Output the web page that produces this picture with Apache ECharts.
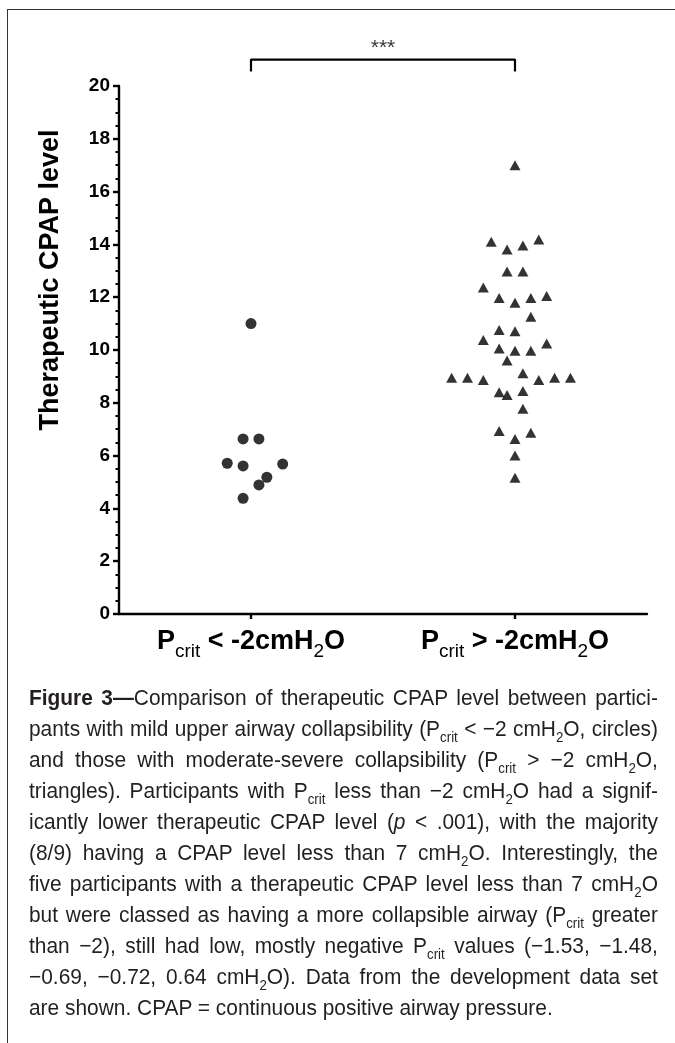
<!DOCTYPE html>
<html>
<head>
<meta charset="utf-8">
<script src="https://cdn.jsdelivr.net/npm/echarts@6/dist/echarts.min.js"></script>
<style>
  body { margin: 0; background: #fff; }
  #frame { position: absolute; left: 7px; top: 9px; width: 700px; height: 1100px;
           border-top: 1.5px solid #333; border-left: 1.5px solid #333; }
  #ch-main { position: absolute; left: 0; top: 0; width: 675px; height: 1043px; }
  #caption { position: absolute; left: 29px; top: 682px; width: 662px;
             transform: scaleX(0.95); transform-origin: left top;
             font-family: "Liberation Sans", Arial, sans-serif; font-size: 22px;
             line-height: 31px; color: #231f20; }
  #caption div { white-space: nowrap; text-align: justify; text-align-last: justify; }
  #caption div.last { text-align-last: left; }
  .sb { font-size: 14px; line-height: 0; position: relative; top: 6px; }
</style>
</head>
<body>
<div id="frame"></div>
<div id="ch-main"></div>
<div id="caption">
  <div><b>Figure 3—</b>Comparison of therapeutic CPAP level between partici-</div>
  <div>pants with mild upper airway collapsibility (P<span class="sb">crit</span> &lt; −2 cmH<span class="sb">2</span>O, circles)</div>
  <div>and those with moderate-severe collapsibility (P<span class="sb">crit</span> &gt; −2 cmH<span class="sb">2</span>O,</div>
  <div>triangles). Participants with P<span class="sb">crit</span> less than −2 cmH<span class="sb">2</span>O had a signif-</div>
  <div>icantly lower therapeutic CPAP level (<i>p</i> &lt; .001), with the majority</div>
  <div>(8/9) having a CPAP level less than 7 cmH<span class="sb">2</span>O. Interestingly, the</div>
  <div>five participants with a therapeutic CPAP level less than 7 cmH<span class="sb">2</span>O</div>
  <div>but were classed as having a more collapsible airway (P<span class="sb">crit</span> greater</div>
  <div>than −2), still had low, mostly negative P<span class="sb">crit</span> values (−1.53, −1.48,</div>
  <div>−0.69, −0.72, 0.64 cmH<span class="sb">2</span>O). Data from the development data set</div>
  <div class="last">are shown. CPAP = continuous positive airway pressure.</div>
</div>
<script>
// groups on the x axis (1 = circles, 2 = triangles)
var groupNames = ['{b|P}{s|crit}{b| < -2cmH}{s|2}{b|O}', '{b|P}{s|crit}{b| > -2cmH}{s|2}{b|O}'];

// Pcrit < -2 : therapeutic CPAP level and horizontal spread of the dots
var lowCpap = [11.0, 6.63, 6.63, 5.71, 5.61, 5.68, 5.18, 4.89, 4.38];
var lowX = [1.0, 0.97, 1.03, 0.91, 0.97, 1.12, 1.06, 1.03, 0.97];

// Pcrit > -2
var highCpap = [17.0, 14.1, 13.81, 13.96, 14.19, 12.97, 12.97, 12.37, 11.97, 11.79,
                11.97, 12.05, 11.26, 10.76, 10.71, 10.38, 10.25, 10.06, 9.97, 9.97,
                9.6, 8.95, 8.95, 8.86, 9.12, 8.86, 8.95, 8.95, 8.4, 8.3,
                8.45, 7.77, 6.93, 6.63, 6.87, 6.0, 5.16];
var highX = [2.0, 1.91, 1.97, 2.03, 2.09, 1.97, 2.03, 1.88, 1.94, 2.0,
             2.06, 2.12, 2.06, 1.94, 2.0, 1.88, 2.12, 1.94, 2.0, 2.06,
             1.97, 1.76, 1.82, 1.88, 2.03, 2.09, 2.15, 2.21, 1.94, 1.97,
             2.03, 2.03, 1.94, 2.0, 2.06, 2.0, 2.0];

// significance bracket between the groups
var bracket = [[1, 20.55], [1, 21], [2, 21], [2, 20.55]];
var sigLabel = '***';

var yTicks = [0, 2, 4, 6, 8, 10, 12, 14, 16, 18, 20];

function pairs(xs, ys) {
    return ys.map(function (v, i) { return [xs[i], v]; });
}

var myChart = echarts.init(document.getElementById('ch-main'));

var fontBold = '"Liberation Sans", Arial, sans-serif';

var option = {
    animation: false,
    grid: {left: 119, right: 28, top: 86, bottom: 429},
    xAxis: {
        type: 'value', min: 0.5, max: 2.5,
        splitLine: {show: false},
        axisLine: {lineStyle: {color: '#000', width: 2.4}},
        axisTick: {show: true, customValues: [1, 2], length: 5, lineStyle: {color: '#000', width: 2.4}},
        axisLabel: {
            customValues: [1, 2],
            margin: 14,
            formatter: function (v) { return groupNames[Math.round(v) - 1]; },
            rich: {
                b: {fontFamily: fontBold, fontWeight: 'bold', fontSize: 27, color: '#000',
                    lineHeight: 30, verticalAlign: 'top'},
                // subscripts pushed down with top padding
                s: {fontFamily: fontBold, fontSize: 19, color: '#000',
                    lineHeight: 20, padding: [14, 0, 0, 0], verticalAlign: 'top'}
            }
        }
    },
    yAxis: {
        type: 'value', min: 0, max: 20, interval: 2,
        splitLine: {show: false},
        axisLine: {show: true, lineStyle: {color: '#000', width: 2.4}},
        axisTick: {show: true, length: 6, lineStyle: {color: '#000', width: 2.4}},
        minorTick: {show: true, splitNumber: 4, length: 3.5, lineStyle: {color: '#000', width: 2}},
        axisLabel: {
            margin: 9, color: '#000', fontSize: 19, fontWeight: 'bold', fontFamily: fontBold,
            formatter: function (v) { return yTicks.indexOf(v) >= 0 ? String(v) : ''; }
        }
    },
    graphic: [{
        type: 'text', x: 51, y: 280, rotation: Math.PI / 2,
        style: {
            text: 'Therapeutic CPAP level', fill: '#000',
            font: 'bold 27px "Liberation Sans", Arial, sans-serif',
            align: 'center', verticalAlign: 'middle'
        }
    }],
    series: [
        {
            type: 'scatter', data: pairs(lowX, lowCpap),
            symbol: 'circle', symbolSize: 11, itemStyle: {color: '#000'}
        },
        {
            type: 'scatter', data: pairs(highX, highCpap),
            symbol: 'triangle', symbolSize: [11, 10], itemStyle: {color: '#000'}
        },
        {
            type: 'line', data: bracket, symbol: 'none', clip: false, silent: true,
            lineStyle: {color: '#000', width: 2.2}
        },
        {
            type: 'scatter', data: [[1.5, 21]], symbolSize: 0, clip: false, silent: true,
            label: {show: true, position: 'top', distance: 1, formatter: sigLabel,
                    fontSize: 21, color: '#000', fontFamily: fontBold}
        }
    ]
};

myChart.setOption(option);
</script>
</body>
</html>
